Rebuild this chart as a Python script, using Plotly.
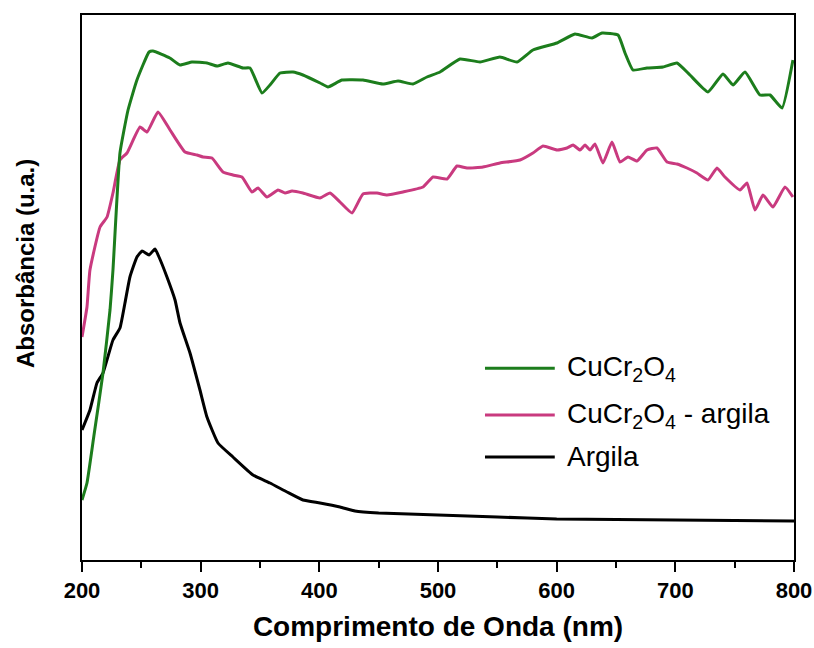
import plotly.graph_objects as go

# ---- data ----
wl_cucr = [200, 204.2, 210, 217.7, 223.6, 226.1, 232, 238.8, 246.3, 256.5, 259.8, 274, 282.6, 292.7,
           305.3, 313.8, 323, 335.7, 341.6, 351.7, 358.4, 366.9, 377.8, 386.2, 400.6, 407.3, 419.1,
           436.8, 453.6, 466.3, 478.9, 490.7, 501.7, 518.5, 535.4, 552.2, 566.6, 580, 600.3, 615.4,
           629.8, 638.2, 651.7, 657.6, 664.3, 676.1, 689.6, 701.4, 712.3, 727.5, 740.2, 748.6, 758.7,
           771.3, 779.8, 789.9, 799.1]
abs_cucr = [0.60, 0.77, 1.24, 1.87, 2.50, 2.90, 4.07, 4.50, 4.80, 5.08, 5.09, 5.02, 4.95, 4.98,
            4.97, 4.94, 4.97, 4.92, 4.92, 4.67, 4.75, 4.87, 4.88, 4.85, 4.77, 4.73, 4.80,
            4.80, 4.76, 4.79, 4.76, 4.83, 4.88, 5.01, 4.98, 5.03, 4.98, 5.10, 5.17, 5.26,
            5.22, 5.27, 5.25, 5.07, 4.90, 4.92, 4.93, 4.97, 4.85, 4.68, 4.86, 4.75, 4.88,
            4.65, 4.65, 4.52, 5.00]

wl_cucr_arg = [200, 204.2, 206.7, 215.2, 221.1, 226.1, 232, 237.9, 248.9, 254.8, 264, 274.2, 286.8,
               296.9, 302, 309.5, 318.8, 327.2, 334.8, 343.3, 348.3, 355.9, 365.2, 371.1, 377, 386.2,
               400.6, 409, 417.4, 427.5, 436.8, 448.6, 457, 470.5, 487.4, 495.8, 507.6, 516, 524.4,
               537.9, 552.2, 569.1, 580, 588.5, 600.3, 608.7, 613.8, 619.7, 623.9, 628.1, 632.3, 639,
               646.6, 653.4, 660.1, 667.7, 676.1, 684.5, 693, 701.4, 709.8, 718.2, 727.5, 735.1,
               741.8, 754.5, 760.4, 767.1, 773.9, 782.3, 792.4, 799.1]
abs_cucr_arg = [2.23, 2.53, 2.90, 3.33, 3.43, 3.67, 4.00, 4.07, 4.33, 4.28, 4.48, 4.30, 4.08,
                4.05, 4.03, 4.02, 3.88, 3.85, 3.83, 3.68, 3.72, 3.63, 3.70, 3.67, 3.69, 3.67,
                3.62, 3.67, 3.58, 3.47, 3.66, 3.67, 3.65, 3.68, 3.73, 3.83, 3.81, 3.94, 3.92,
                3.93, 3.97, 4.00, 4.07, 4.14, 4.10, 4.12, 4.15, 4.10, 4.15, 4.10, 4.16, 3.97,
                4.18, 3.98, 4.03, 3.99, 4.10, 4.12, 3.98, 3.96, 3.92, 3.87, 3.80, 3.92,
                3.83, 3.70, 3.77, 3.50, 3.65, 3.53, 3.73, 3.63]

wl_argila = [200, 206.7, 212.6, 217.7, 226.1, 232, 236.2, 240.4, 246.3, 250.6, 256.5, 261.5, 264.9,
             271.6, 278.4, 282.6, 291, 299.4, 305.3, 314.6, 327.2, 344.1, 358.4, 372.7, 386.2,
             400.6, 417.4, 430, 450, 500, 550, 600, 700, 800]
abs_argila = [1.30, 1.50, 1.77, 1.87, 2.20, 2.32, 2.57, 2.83, 3.03, 3.09, 3.05, 3.11, 3.03,
              2.83, 2.60, 2.37, 2.07, 1.70, 1.43, 1.17, 1.03, 0.85, 0.77, 0.68, 0.60,
              0.57, 0.53, 0.49, 0.47, 0.45, 0.43, 0.41, 0.40, 0.39]

series_names = ["CuCr<sub>2</sub>O<sub>4</sub>", "CuCr<sub>2</sub>O<sub>4</sub> - argila", "Argila"]
series_colors = ["#1c7d1c", "#c93a7f", "#000000"]
x_ticks = [200, 300, 400, 500, 600, 700, 800]

FONT = "Liberation Sans, Arial, sans-serif"

fig = go.Figure()
for wl, ab, name, col in [(wl_argila, abs_argila, series_names[2], series_colors[2]),
                          (wl_cucr_arg, abs_cucr_arg, series_names[1], series_colors[1]),
                          (wl_cucr, abs_cucr, series_names[0], series_colors[0])]:
    fig.add_trace(go.Scatter(x=wl, y=ab, mode="lines", name=name,
                             line=dict(color=col, width=3, shape="spline", smoothing=0.4),
                             showlegend=False, hoverinfo="skip"))

# manual legend (long sample lines as in the reference)
leg_y = [0.352, 0.266, 0.189]
for yy, name, col in zip(leg_y, series_names, series_colors):
    fig.add_shape(type="line", xref="paper", yref="paper", x0=0.566, x1=0.664, y0=yy, y1=yy,
                  line=dict(color=col, width=3))
    fig.add_annotation(xref="paper", yref="paper", x=0.678, y=yy, text=name, showarrow=False,
                       xanchor="left", yanchor="middle",
                       font=dict(family=FONT, size=28, color="black"))

# y-axis title (placed slightly above the plot centre, as in the reference)
fig.add_annotation(xref="paper", yref="paper", x=-0.080, y=0.543, text="<b>Absorbância (u.a.)</b>",
                   textangle=-90, showarrow=False, xanchor="center", yanchor="middle",
                   font=dict(family=FONT, size=24, color="black"))

fig.update_layout(
    width=814, height=648,
    margin=dict(l=82, r=20, t=15, b=88, autoexpand=False),
    paper_bgcolor="white", plot_bgcolor="white",
    font=dict(family=FONT, color="black"),
    xaxis=dict(range=[200, 800], tickvals=x_ticks, ticktext=[str(t) for t in x_ticks],
               automargin=False,
               ticks="outside", ticklen=10, tickwidth=2, tickcolor="black",
               minor=dict(ticks="outside", dtick=50, tick0=200, ticklen=6, tickwidth=2, tickcolor="black"),
               showline=True, linewidth=2, linecolor="black", mirror=True,
               showgrid=False, zeroline=False,
               tickfont=dict(family=FONT, size=22, color="black", weight="bold"),
               title=dict(text="<b>Comprimento de Onda (nm)</b>", standoff=14,
                          font=dict(family=FONT, size=28, color="black"))),
    yaxis=dict(range=[0, 5.45], showticklabels=False, ticks="", automargin=False,
               showline=True, linewidth=2, linecolor="black", mirror=True,
               showgrid=False, zeroline=False),
)

fig.write_html("out.html")
